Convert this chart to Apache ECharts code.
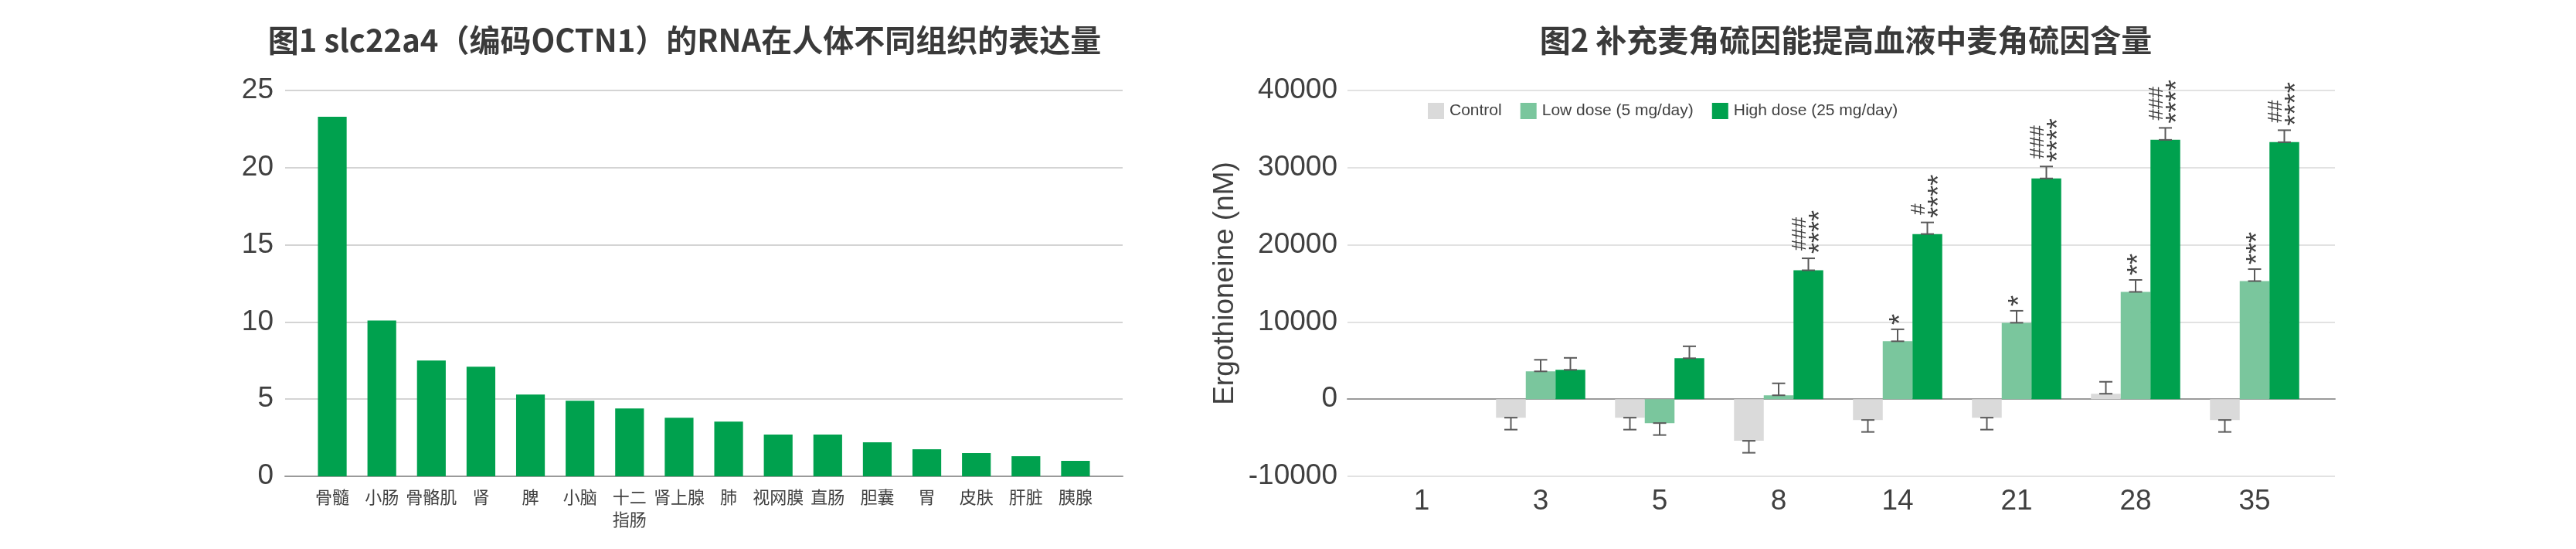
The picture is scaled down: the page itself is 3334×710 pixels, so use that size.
<!DOCTYPE html>
<html>
<head>
<meta charset="utf-8">
<script src="https://cdn.jsdelivr.net/npm/echarts@6/dist/echarts.min.js"></script>
<style>
html,body{margin:0;padding:0;background:#fff;}
#chart{width:3334px;height:710px;}
</style>
</head>
<body>
<div id="chart"></div>
<script>
// ---- Figure 1 data ----
const tissues = ['骨髓','小肠','骨骼肌','肾','脾','小脑','十二指肠','肾上腺','肺','视网膜','直肠','胆囊','胃','皮肤','肝脏','胰腺'];
const expression = [23.3,10.1,7.5,7.1,5.3,4.9,4.4,3.8,3.55,2.7,2.7,2.2,1.75,1.5,1.3,1.0];
const fig1Min = 0, fig1Max = 25, fig1Step = 5;

// ---- Figure 2 data ----
const days = ['1','3','5','8','14','21','28','35'];
const seriesNames = ['Control','Low dose (5 mg/day)','High dose (25 mg/day)'];
const controlValues = [0,-2400,-2400,-5400,-2700,-2400,700,-2700];
const lowDoseValues = [0,3600,-3100,500,7500,9900,13900,15300];
const highDoseValues = [0,3800,5300,16700,21400,28600,33600,33300];
const controlErr = [0,1550,1550,1550,1550,1550,1550,1550];
const lowDoseErr = [0,1500,1550,1550,1550,1550,1550,1550];
const highDoseErr = [0,1550,1550,1550,1500,1550,1550,1550];
const controlHash = ['','','','','','','',''];
const controlStar = ['','','','','','','',''];
const lowDoseHash = ['','','','','','','',''];
const lowDoseStar = ['','','','','*','*','**','***'];
const highDoseHash = ['','','','###','#','###','###','##'];
const highDoseStar = ['','','','****','****','****','****','****'];
const fig2Min = -10000, fig2Max = 40000, fig2Step = 10000;

const colors = ['#DADADA','#7AC69D','#00A14E'];
const textColor = '#404040';
const latin = '"Liberation Sans", Arial, sans-serif';
const cjk = '"Noto Sans CJK SC", "Liberation Sans", sans-serif';

const groups = [
  {values: controlValues, err: controlErr, hash: controlHash, star: controlStar},
  {values: lowDoseValues, err: lowDoseErr, hash: lowDoseHash, star: lowDoseStar},
  {values: highDoseValues, err: highDoseErr, hash: highDoseHash, star: highDoseStar}
];

function vText(str, x, y, size) {
  return {
    type: 'text', x: x, y: y, rotation: Math.PI / 2,
    style: {text: str, align: 'left', verticalAlign: 'middle', fill: textColor,
            fontFamily: latin, fontSize: size}
  };
}

function errorSeries(k) {
  const g = groups[k];
  return {
    type: 'custom',
    xAxisIndex: 3, yAxisIndex: 3,
    z: 5,
    silent: true,
    encode: {x: 0, y: 1},
    data: days.map((d, i) => [i, g.values[i], g.err[i]]),
    renderItem: function (params, api) {
      const i = api.value(0), v = api.value(1), e = api.value(2);
      const children = [];
      const band = api.size([1, 0])[0];
      const barW = band * 0.25;
      const off = (k - 1) * barW;
      const sign = v < 0 ? -1 : 1;
      const p0 = api.coord([i, v]);
      const p1 = api.coord([i, v + sign * e]);
      const x = p0[0] + off;
      const cap = 8.5;
      const ls = {stroke: '#5a5a5a', lineWidth: 2};
      if (e > 0) {
        children.push({type: 'line', shape: {x1: x, y1: p0[1], x2: x, y2: p1[1]}, style: ls});
        children.push({type: 'line', shape: {x1: x - cap, y1: p0[1], x2: x + cap, y2: p0[1]}, style: ls});
        children.push({type: 'line', shape: {x1: x - cap, y1: p1[1], x2: x + cap, y2: p1[1]}, style: ls});
      }
      const h = g.hash[i], s = g.star[i];
      if (h && s) {
        children.push(vText(h, x - 11, p1[1] - 10, 26));
        children.push(vText(s, x + 17, p1[1] - 6, 36));
      } else if (s) {
        children.push(vText(s, x + 5, p1[1] - 6, 36));
      } else if (h) {
        children.push(vText(h, x + 1, p1[1] - 10, 26));
      }
      return {type: 'group', children: children};
    }
  };
}

const chart = echarts.init(document.getElementById('chart'), null, {renderer: 'canvas'});
const option = {
  backgroundColor: '#ffffff',
  animation: false,
  title: [
    {text: '图1 slc22a4（编码OCTN1）的RNA在人体不同组织的表达量', left: 881, top: 27, textAlign: 'center',
     textStyle: {fontFamily: cjk, fontWeight: 'bold', fontSize: 40, color: '#3a3a3a'}},
    {text: '图2 补充麦角硫因能提高血液中麦角硫因含量', left: 2384, top: 27, textAlign: 'center',
     textStyle: {fontFamily: cjk, fontWeight: 'bold', fontSize: 40, color: '#3a3a3a'}}
  ],
  legend: {
    data: seriesNames,
    left: 1843, top: 128,
    itemWidth: 21, itemHeight: 21, itemGap: 24,
    icon: 'rect',
    textStyle: {fontFamily: latin, fontSize: 21, color: textColor, padding: [0, 0, 0, 2]}
  },
  grid: [
    {left: 369, top: 117, width: 1084, height: 499},
    {left: 398, top: 117, width: 1026, height: 499},
    {left: 1744, top: 117, width: 1278, height: 499},
    {left: 1763, top: 117, width: 1232, height: 499}
  ],
  xAxis: [
    {gridIndex: 0, type: 'category', data: tissues,
     axisLine: {show: true, lineStyle: {color: '#9a9a9a', width: 2}},
     axisTick: {show: false}, axisLabel: {show: false}, splitLine: {show: false}},
    {gridIndex: 1, type: 'category', data: tissues,
     axisLine: {show: false}, axisTick: {show: false},
     axisLabel: {show: true, interval: 0, margin: 12, fontFamily: cjk, fontSize: 22, lineHeight: 29, color: textColor,
       formatter: v => v.length > 3 ? v.slice(0, 2) + '\n' + v.slice(2) : v}},
    {gridIndex: 2, type: 'category', data: days,
     axisLine: {show: true, onZero: true, lineStyle: {color: '#9a9a9a', width: 2}},
     axisTick: {show: false}, axisLabel: {show: false}, splitLine: {show: false}},
    {gridIndex: 3, type: 'category', data: days,
     axisLine: {show: false, onZero: false}, axisTick: {show: false},
     axisLabel: {show: true, interval: 0, margin: 14, fontFamily: latin, fontSize: 37, color: textColor}}
  ],
  yAxis: [
    {gridIndex: 0, type: 'value', min: fig1Min, max: fig1Max, interval: fig1Step,
     axisLine: {show: false}, axisTick: {show: false},
     axisLabel: {margin: 15, fontFamily: latin, fontSize: 37, color: textColor, formatter: v => String(v)},
     splitLine: {lineStyle: {color: '#d4d4d4', width: 2}}},
    {gridIndex: 1, type: 'value', min: fig1Min, max: fig1Max, interval: fig1Step, show: false,
     splitLine: {show: false}},
    {gridIndex: 2, type: 'value', min: fig2Min, max: fig2Max, interval: fig2Step,
     axisLine: {show: false}, axisTick: {show: false},
     name: 'Ergothioneine (nM)', nameLocation: 'middle', nameGap: 140, nameRotate: 90,
     nameTextStyle: {fontFamily: latin, fontSize: 37, color: textColor},
     axisLabel: {margin: 13, fontFamily: latin, fontSize: 37, color: textColor, formatter: v => String(v)},
     splitLine: {lineStyle: {color: '#e2e2e2', width: 2}}},
    {gridIndex: 3, type: 'value', min: fig2Min, max: fig2Max, interval: fig2Step, show: false,
     splitLine: {show: false}}
  ],
  series: [
    {type: 'bar', xAxisIndex: 1, yAxisIndex: 1, data: expression, barWidth: '58%',
     itemStyle: {color: '#00A14E'}},
    {type: 'bar', name: seriesNames[0], xAxisIndex: 3, yAxisIndex: 3, data: controlValues,
     barWidth: '25%', barGap: '0%', itemStyle: {color: colors[0]}},
    {type: 'bar', name: seriesNames[1], xAxisIndex: 3, yAxisIndex: 3, data: lowDoseValues,
     barWidth: '25%', barGap: '0%', itemStyle: {color: colors[1]}},
    {type: 'bar', name: seriesNames[2], xAxisIndex: 3, yAxisIndex: 3, data: highDoseValues,
     barWidth: '25%', barGap: '0%', itemStyle: {color: colors[2]}},
    errorSeries(0), errorSeries(1), errorSeries(2)
  ]
};
chart.setOption(option);
</script>
</body>
</html>
